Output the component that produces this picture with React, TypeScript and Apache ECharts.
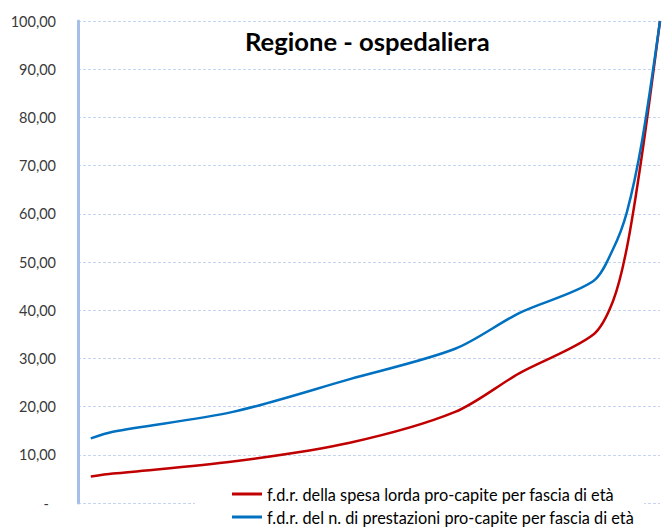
import React, { useEffect, useRef } from "react";
import * as echarts from "echarts";

const xShare = [2.2, 6.0, 26.6, 46.7, 64.8, 75.8, 88.5, 91.9, 94.3, 96.9, 100];
const spesa = [5.5, 6.1, 8.6, 12.5, 18.9, 26.9, 34.9, 41.8, 52.9, 72.2, 100];
const prestazioni = [13.4, 14.8, 18.9, 25.7, 32.0, 39.4, 46.0, 52.6, 60.3, 75.0, 100];
const seriesNames = [
  "f.d.r. della spesa lorda pro-capite per fascia di età",
  "f.d.r. del n. di prestazioni pro-capite per fascia di età",
];
const titleText = "Regione - ospedaliera";

const FONT = "Lato, 'Open Sans', sans-serif";

export default function App() {
  const ref = useRef<HTMLDivElement>(null);
  useEffect(() => {
    if (!ref.current) return;
    const chart = echarts.init(ref.current, null, { renderer: "svg" });
    chart.setOption({
      animation: false,
      backgroundColor: "#fff",
      title: {
        text: titleText,
        left: 240,
        top: 23,
        textStyle: { fontFamily: FONT, fontWeight: "bold", fontSize: 25.6, color: "#000" },
      },
      grid: { left: 78, right: 4, top: 21, bottom: 27 },
      xAxis: {
        type: "value",
        min: 0,
        max: 100,
        show: false,
        splitLine: { show: false },
      },
      yAxis: {
        type: "value",
        min: 0,
        max: 100,
        interval: 10,
        axisLine: { show: true, lineStyle: { color: "#a7bfe8", width: 3 } },
        axisTick: { show: false },
        axisLabel: {
          margin: 22,
          fontFamily: FONT,
          fontSize: 14.5,
          color: "#3a3a3a",
          formatter: (v: number) => (v === 0 ? "{d|-}" : v.toFixed(2).replace(".", ",")),
          rich: { d: { fontFamily: FONT, fontSize: 14.5, color: "#3a3a3a", padding: [0, 7, 0, 0] } },
        },
        splitLine: { show: true, lineStyle: { color: "#c6d5ef", type: [3, 2], width: 1 } },
      },
      legend: {
        orient: "vertical",
        left: 195,
        top: 484,
        padding: [2, 10, 2, 37],
        backgroundColor: "#fff",
        itemGap: 7,
        itemWidth: 30,
        itemHeight: 3,
        icon: "rect",
        textStyle: { fontFamily: FONT, fontSize: 16.3, color: "#000" },
        data: seriesNames,
      },
      series: [
        {
          name: seriesNames[0],
          type: "line",
          data: xShare.map((x, i) => [x, spesa[i]]),
          smooth: 0.3,
          showSymbol: false,
          symbol: "none",
          lineStyle: { color: "#c00000", width: 2.5 },
          itemStyle: { color: "#c00000" },
        },
        {
          name: seriesNames[1],
          type: "line",
          data: xShare.map((x, i) => [x, prestazioni[i]]),
          smooth: 0.3,
          showSymbol: false,
          symbol: "none",
          lineStyle: { color: "#0070c0", width: 2.5 },
          itemStyle: { color: "#0070c0" },
        },
      ],
    });
    return () => chart.dispose();
  }, []);
  return <div ref={ref} style={{ width: 664, height: 530, position: "absolute", left: 0, top: 0 }} />;
}
